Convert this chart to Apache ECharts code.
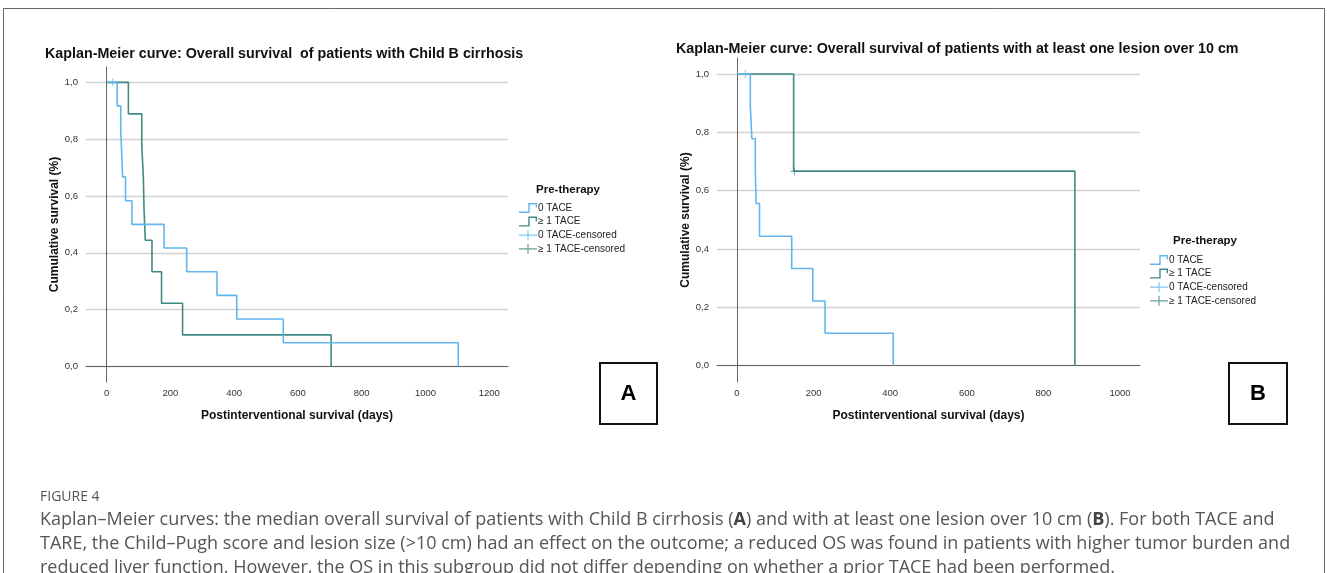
<!DOCTYPE html>
<html><head><meta charset="utf-8">
<script src="https://cdn.jsdelivr.net/npm/echarts@6/dist/echarts.min.js"></script>
<style>html,body{margin:0;padding:0;background:#fff}#c{width:1327px;height:573px}</style>
</head><body><div id="c"></div>
<script>
// ---- data (days, cumulative survival) ----
const xTicks = [0, 200, 400, 600, 800, 1000, 1200];
const xTicksB = [0, 200, 400, 600, 800, 1000];
const yTicks = [0, 0.2, 0.4, 0.6, 0.8, 1.0];
const seriesNames = ['0 TACE', '≥ 1 TACE', '0 TACE-censored', '≥ 1 TACE-censored'];

const A_tace0 = [[0,1],[33,0.917],[44,0.833],[47,0.75],[50,0.667],[59,0.583],[79,0.5],[180,0.417],[251,0.333],[346,0.25],[408,0.167],[554,0.083],[1103,0]];
const A_tace1 = [[0,1],[68,0.889],[110,0.778],[115,0.667],[117,0.556],[121,0.444],[142,0.333],[172,0.222],[238,0.111],[704,0]];
const A_cens0 = [[19,1]];
const A_cens1 = [];

const B_tace0 = [[0,1],[35,0.889],[39,0.778],[48,0.667],[50,0.556],[59,0.444],[143,0.333],[198,0.222],[230,0.111],[408,0]];
const B_tace1 = [[0,1],[148,0.667],[882,0]];
const B_cens0 = [[22,1]];
const B_cens1 = [[150,0.667]];

const titleA = 'Kaplan-Meier curve: Overall survival  of patients with Child B cirrhosis';
const titleB = 'Kaplan-Meier curve: Overall survival of patients with at least one lesion over 10 cm';
const yName = 'Cumulative survival (%)';
const xName = 'Postinterventional survival (days)';
const legendTitle = 'Pre-therapy';
const captionHead = 'FIGURE 4';
const captionLines = [
  'Kaplan–Meier curves: the median overall survival of patients with Child B cirrhosis ({b|A}) and with at least one lesion over 10 cm ({b|B}). For both TACE and',
  'TARE, the Child–Pugh score and lesion size (>10 cm) had an effect on the outcome; a reduced OS was found in patients with higher tumor burden and',
  'reduced liver function. However, the OS in this subgroup did not differ depending on whether a prior TACE had been performed.'
];

// ---- styling ----
const BLUE = '#62b6ee', TEAL = '#3f8a86';
const FF = '"Liberation Sans", Arial, sans-serif';
const CF = '"Open Sans", sans-serif';
const stepIcon = 'path://M0,8.5 L8,8.5 L8,1 L15.5,1 L15.5,5 L14.3,5 L14.3,2.2 L9.2,2.2 L9.2,9.7 L0,9.7 Z';
const plusIcon = 'path://M0,4.4 L8.4,4.4 L8.4,0 L9.6,0 L9.6,4.4 L18,4.4 L18,5.6 L9.6,5.6 L9.6,10 L8.4,10 L8.4,5.6 L0,5.6 Z';
const censSym = 'path://M0,4.4 L4.4,4.4 L4.4,0 L5.6,0 L5.6,4.4 L10,4.4 L10,5.6 L5.6,5.6 L5.6,10 L4.4,10 L4.4,5.6 L0,5.6 Z';

function xAxis(gi, min, max, ticks) {
  return {
    type: 'value', gridIndex: gi, min: min, max: max,
    name: xName, nameLocation: 'middle', nameGap: 28,
    nameTextStyle: {fontFamily: FF, fontWeight: 'bold', fontSize: 12, color: '#111'},
    axisLine: {show: true, lineStyle: {color: '#666', width: 1}},
    axisTick: {show: false, customValues: ticks},
    axisLabel: {customValues: ticks, fontFamily: FF, fontSize: 9.5, color: '#333', margin: 6,
      formatter: v => String(v)},
    splitLine: {show: false}
  };
}
function yAxis(gi, min, max) {
  return {
    type: 'value', gridIndex: gi, min: min, max: max,
    name: yName, nameLocation: 'middle', nameRotate: 90, nameGap: 25,
    nameTextStyle: {fontFamily: FF, fontWeight: 'bold', fontSize: 12, color: '#111'},
    axisLine: {show: true, lineStyle: {color: '#666', width: 1}},
    axisTick: {show: false, customValues: yTicks},
    axisLabel: {customValues: yTicks, fontFamily: FF, fontSize: 9.5, color: '#333', margin: 8,
      formatter: v => v.toFixed(1).replace('.', ',')},
    splitLine: {show: true, lineStyle: {color: '#d2d2d2', width: 1.3}}
  };
}
function lineS(name, data, color, gi) {
  return {type: 'line', name: name, data: data, step: 'end', xAxisIndex: gi, yAxisIndex: gi,
    symbol: 'none', color: color, lineStyle: {color: color, width: 1.6}, z: color === TEAL ? 3 : 4,
    animation: false};
}
function censS(name, data, color, gi) {
  return {type: 'scatter', name: name, data: data, xAxisIndex: gi, yAxisIndex: gi,
    symbol: censSym, symbolSize: 8, color: color, itemStyle: {color: color}, z: 5, animation: false};
}
function legendAt(left, top) {
  return {
    orient: 'vertical', left: left, top: top, itemWidth: 18, itemHeight: 10, itemGap: 3.6,
    selectedMode: false, padding: 0, symbolKeepAspect: false,
    itemStyle: {borderWidth: 0},
    textStyle: {fontFamily: FF, fontSize: 10, color: '#222', padding: [0, 0, 0, -4]},
    data: [
      {name: seriesNames[0], icon: stepIcon},
      {name: seriesNames[1], icon: stepIcon},
      {name: seriesNames[2], icon: plusIcon},
      {name: seriesNames[3], icon: plusIcon}
    ]
  };
}

const chart = echarts.init(document.getElementById('c'), null, {renderer: 'canvas'});
chart.setOption({
  backgroundColor: '#fff',
  animation: false,
  grid: [
    {left: 86, top: 67, width: 422, height: 315},
    {left: 717, top: 58, width: 423, height: 324}
  ],
  xAxis: [xAxis(0, -65, 1259, xTicks), xAxis(1, -52, 1052, xTicksB)],
  yAxis: [yAxis(0, -0.055, 1.054), yAxis(1, -0.056, 1.055)],
  legend: [legendAt(519, 203), legendAt(1150, 255)],
  series: [
    lineS(seriesNames[0], A_tace0, BLUE, 0),
    lineS(seriesNames[1], A_tace1, TEAL, 0),
    censS(seriesNames[2], A_cens0, BLUE, 0),
    censS(seriesNames[3], A_cens1, TEAL, 0),
    lineS(seriesNames[0], B_tace0, BLUE, 1),
    lineS(seriesNames[1], B_tace1, TEAL, 1),
    censS(seriesNames[2], B_cens0, BLUE, 1),
    censS(seriesNames[3], B_cens1, TEAL, 1)
  ],
  graphic: [
    {type: 'rect', shape: {x: 3.5, y: 8.5, width: 1321, height: 620}, style: {fill: 'none', stroke: '#666', lineWidth: 1}, z: 0},
    {type: 'text', x: 45, y: 54, style: {text: titleA, font: 'bold 14.3px ' + FF, fill: '#111', verticalAlign: 'middle'}},
    {type: 'text', x: 676, y: 49, style: {text: titleB, font: 'bold 14.3px ' + FF, fill: '#111', verticalAlign: 'middle'}},
    {type: 'text', x: 568, y: 190, style: {text: legendTitle, font: 'bold 11.5px ' + FF, fill: '#111', align: 'center', verticalAlign: 'middle'}},
    {type: 'text', x: 1205, y: 241, style: {text: legendTitle, font: 'bold 11.5px ' + FF, fill: '#111', align: 'center', verticalAlign: 'middle'}},
    {type: 'rect', shape: {x: 600, y: 363, width: 57, height: 61}, style: {fill: '#fff', stroke: '#111', lineWidth: 2}},
    {type: 'text', x: 628.5, y: 394, style: {text: 'A', font: 'bold 22px ' + FF, fill: '#000', align: 'center', verticalAlign: 'middle'}},
    {type: 'rect', shape: {x: 1229, y: 363, width: 58, height: 61}, style: {fill: '#fff', stroke: '#111', lineWidth: 2}},
    {type: 'text', x: 1258, y: 394, style: {text: 'B', font: 'bold 22px ' + FF, fill: '#000', align: 'center', verticalAlign: 'middle'}},
    {type: 'text', x: 40, y: 497, style: {text: captionHead, font: '14px ' + CF, fill: '#555', verticalAlign: 'middle'}},
    {type: 'text', x: 40, y: 520, style: {text: captionLines[0], fontFamily: CF, fontSize: 18, fill: '#555', verticalAlign: 'middle', rich: {b: {fontFamily: CF, fontSize: 18, fontWeight: 'bold', fill: '#444'}}}},
    {type: 'text', x: 40, y: 544, style: {text: captionLines[1], fontFamily: CF, fontSize: 18, fill: '#555', verticalAlign: 'middle'}},
    {type: 'text', x: 40, y: 568, style: {text: captionLines[2], fontFamily: CF, fontSize: 18, fill: '#555', verticalAlign: 'middle'}}
  ]
});
</script></body></html>
